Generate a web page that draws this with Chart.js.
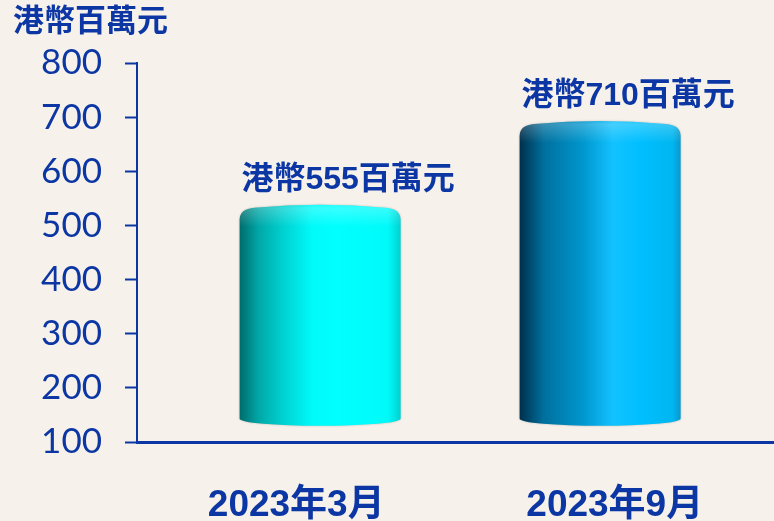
<!DOCTYPE html>
<html>
<head>
<meta charset="utf-8">
<script src="https://cdn.jsdelivr.net/npm/chart.js@4"></script>
<style>
  html, body { margin: 0; padding: 0; background: #f6f2eb; }
  #wrap { width: 774px; height: 521px; }
</style>
</head>
<body>
<div id="wrap"><canvas id="chart"></canvas></div>
<script>
// Data
const categories = ['2023年3月', '2023年9月'];
const values = [555, 710];
const valueLabels = ['港幣555百萬元', '港幣710百萬元'];
const yTicks = [100, 200, 300, 400, 500, 600, 700, 800];
const unitTitle = '港幣百萬元';

const BLUE = '#0b36a3';
const CJK = '"Noto Sans CJK TC", "Noto Sans CJK SC", sans-serif';

// gradient stops for each cylinder (left -> right)
const cylinderStops = [
    [[0, '#006c6c'], [0.12, '#00a8a8'], [0.25, '#00cccc'], [0.45, '#00fafa'], [0.6, '#00ffff'], [0.92, '#00fafa'], [1, '#00d0d0']],
    [[0, '#002f4c'], [0.15, '#00709e'], [0.4, '#0098d0'], [0.58, '#12c2ff'], [0.75, '#00bfff'], [0.95, '#00b6f0'], [1, '#0898cc']]
];

// draws each bar as a 3D cylinder with a rounded cap
const cylinderPlugin = {
    id: 'cylinders',
    afterDatasetsDraw(chart) {
        const ctx = chart.ctx;
        const meta = chart.getDatasetMeta(0);
        meta.data.forEach((bar, i) => {
            const w = bar.width;
            const L = bar.x - w / 2, R = bar.x + w / 2, cx = bar.x;
            const T = bar.y + 9;     // cap seen in perspective
            const B = bar.base;
            const ry = 7, rc = 15;

            ctx.save();
            ctx.beginPath();
            ctx.moveTo(L, B - ry);
            ctx.lineTo(L, T + rc);
            ctx.quadraticCurveTo(L, T + 4, L + rc, T + 3);
            ctx.quadraticCurveTo(cx, T - 3, R - rc, T + 3);
            ctx.quadraticCurveTo(R, T + 4, R, T + rc);
            ctx.lineTo(R, B - ry);
            ctx.ellipse(cx, B - ry, w / 2, ry, 0, 0, Math.PI, false);
            ctx.closePath();

            const g = ctx.createLinearGradient(L, 0, R, 0);
            cylinderStops[i].forEach(s => g.addColorStop(s[0], s[1]));
            ctx.fillStyle = g;
            ctx.shadowColor = 'rgba(0,0,0,0.25)';
            ctx.shadowBlur = 2;
            ctx.fill();
            ctx.shadowColor = 'transparent';

            // soft light on the cap
            ctx.clip();
            const hg = ctx.createLinearGradient(0, T - 3, 0, T + 22);
            hg.addColorStop(0, 'rgba(255,255,255,0.0)');
            hg.addColorStop(0.25, 'rgba(255,255,255,0.22)');
            hg.addColorStop(1, 'rgba(255,255,255,0)');
            ctx.fillStyle = hg;
            ctx.fillRect(L, T - 4, w, 28);
            ctx.restore();

            // value label above the cylinder
            ctx.save();
            ctx.fillStyle = BLUE;
            ctx.font = 'bold 32px "Liberation Sans", ' + CJK;
            ctx.textAlign = 'center';
            ctx.textBaseline = 'middle';
            ctx.fillText(valueLabels[i], cx + 28, T - 25);
            ctx.restore();
        });
    }
};

const ctx = document.getElementById('chart').getContext('2d');
new Chart(ctx, {
    type: 'bar',
    data: {
        labels: categories,
        datasets: [{
            data: values.map((v, i) => ({ x: i, y: v })),
            xAxisID: 'xb',
            base: 130,
            backgroundColor: 'transparent',
            barThickness: 161
        }]
    },
    options: {
        responsive: true,
        maintainAspectRatio: false,
        animation: false,
        layout: { padding: { left: 13, right: 0, top: 0, bottom: 0 } },
        plugins: {
            legend: { display: false },
            tooltip: { enabled: false },
            title: {
                display: true,
                text: unitTitle,
                align: 'start',
                color: BLUE,
                font: { family: CJK, size: 31, weight: 'bold' },
                padding: { top: 1, bottom: 25 }
            }
        },
        scales: {
            x: {
                type: 'category',
                offset: true,
                grid: { display: false },
                border: { display: true, color: BLUE, width: 3 },
                ticks: {
                    color: BLUE,
                    padding: 34,
                    font: { family: '"Liberation Sans", ' + CJK, size: 37, weight: 'bold' }
                },
                afterFit(scale) { scale.height = 79; }
            },
            xb: {
                type: 'linear',
                display: false,
                offset: false,
                min: -0.654,
                max: 1.621
            },
            y: {
                min: 100,
                max: 800,
                afterBuildTicks(scale) { scale.ticks = yTicks.map(v => ({ value: v })); },
                grid: {
                    drawOnChartArea: false,
                    drawTicks: true,
                    tickLength: 12,
                    tickWidth: 2,
                    color: BLUE
                },
                border: { display: true, color: BLUE, width: 2 },
                ticks: {
                    color: BLUE,
                    padding: 23,
                    font: { family: 'Lato, sans-serif', size: 35 }
                },
                afterFit(scale) { scale.width = 124; }
            }
        }
    },
    plugins: [cylinderPlugin]
});
</script>
</body>
</html>
